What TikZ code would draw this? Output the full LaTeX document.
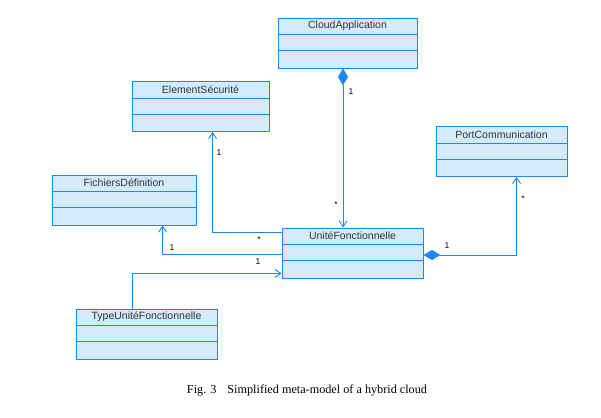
\documentclass[tikz,border=0pt]{standalone}
\usepackage{fontspec}
\setmainfont{Liberation Serif}
\newfontfamily\clsfont{Liberation Sans}
\usetikzlibrary{arrows.meta,calc}
\definecolor{umlblue}{HTML}{1E86F5}
\definecolor{umlfill}{HTML}{D3EBFA}
\definecolor{umltext}{HTML}{333333}
\tikzset{
  clsbox/.style={draw=umlblue, fill=umlfill, line width=0.9pt, minimum height=50pt, inner sep=0pt, rectangle},
  clsname/.style={font=\clsfont\fontsize{10.5}{12}\selectfont, text=umltext, inner sep=0pt},
  clsborder/.style={draw=umlblue, line width=0.9pt},
  assoc/.style={draw=umlblue, line width=0.9pt, -{Straight Barb[length=6pt,width=8pt]}},
  comp/.style={draw=umlblue, line width=0.9pt, {Diamond[length=17pt,width=10pt,fill=umlblue]}-{Straight Barb[length=6pt,width=8pt]}},
  mult/.style={font=\clsfont\fontsize{8.5}{10}\selectfont, text=black, inner sep=0pt},
}
\newcommand{\umlcls}[5]{%
  \node[clsbox, minimum width=#4pt] (#1) at (#2,#3) {};
  \node[clsname] (#1-name) at ($(#1.north)+(0,8.5)$) {#5};
  \draw[clsborder] ($(#1.north west)+(0,17)$) -- ($(#1.north east)+(0,17)$);
  \draw[clsborder] ($(#1.north west)+(0,33)$) -- ($(#1.north east)+(0,33)$);
}
\begin{document}
\begin{tikzpicture}[x=1pt,y=-1pt]
\useasboundingbox[fill=white] (0,0) rectangle (601,417);
\umlcls{cloud}{347.5}{43}{139}{CloudApplication}
\umlcls{elem}{200.5}{106.5}{137}{ElementSécurité}
\umlcls{fich}{124}{200}{144}{FichiersDéfinition}
\umlcls{unit}{352.5}{253}{141}{UnitéFonctionnelle}
\umlcls{port}{501.5}{151.5}{131}{PortCommunication}
\umlcls{type}{146.5}{334}{141}{TypeUnitéFonctionnelle}
% connectors
\draw[comp] ($(cloud.south)+(-4.5,0)$) -- ($(unit.north)+(-9.5,0)$);
\draw[assoc] ($(unit.north west)+(0,5)$) -| ($(elem.south west)+(81,0)$);
\draw[assoc] ($(unit.west)+(0,1)$) -| ($(fich.south west)+(111,0)$);
\draw[assoc] ($(type.north west)+(57,0)$) |- ($(unit.south west)+(0,-5)$);
\draw[comp] ($(unit.east)+(0,2)$) -| ($(port.south west)+(81,0)$);
% multiplicities
\node[mult] (m1) at (351,92) {1};
\node[mult] (m2) at (336,205) {*};
\node[mult] (m3) at (219,153) {1};
\node[mult] (m4) at (259,240) {*};
\node[mult] (m5) at (172,248) {1};
\node[mult] (m6) at (258,262) {1};
\node[mult] (m7) at (447,246) {1};
\node[mult] (m8) at (523,199) {*};
% caption
\node[font=\fontsize{12.2}{14}\selectfont, inner sep=0pt] (cap) at (307,391) {Fig. 3\hspace{0.9em}Simplified meta-model of a hybrid cloud};
\end{tikzpicture}
\end{document}
